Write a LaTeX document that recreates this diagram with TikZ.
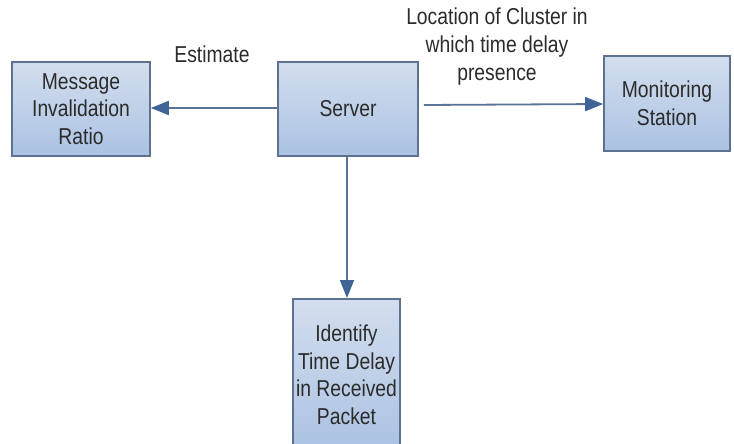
\documentclass[tikz,border=0pt]{standalone}
\usepackage{fontspec}
\setmainfont[FakeStretch=0.84]{Liberation Sans}
\usetikzlibrary{arrows.meta}
\definecolor{boxtop}{HTML}{D3DEEE}
\definecolor{boxbot}{HTML}{ABC2E2}
\definecolor{boxline}{HTML}{5D7191}
\definecolor{arrline}{HTML}{5A7396}
\definecolor{arrhead}{HTML}{3F6596}
\definecolor{txt}{HTML}{2B2B2B}
\tikzset{
  x=1pt, y=-1pt,
  box/.style={draw=boxline, line width=1.6pt, top color=boxtop, bottom color=boxbot,
    rectangle, inner sep=0pt, align=center, text=txt, font=\fontsize{23}{27.5}\selectfont},
  conn/.style={draw=arrline, line width=1.8pt, -{Triangle[length=18pt,width=14pt,fill=arrhead,color=arrhead]}},
  lbl/.style={align=center, text=txt, font=\fontsize{23}{28}\selectfont, inner sep=0pt}
}
\begin{document}
\begin{tikzpicture}
\useasboundingbox (0,0) rectangle (734,444);
\clip (0,0) rectangle (734,444);
\node[box, minimum width=138pt, minimum height=94pt] (mir) at (81,109) {Message\\Invalidation\\Ratio};
\node[box, minimum width=140pt, minimum height=94pt] (srv) at (348,109) {Server};
\node[box, minimum width=126pt, minimum height=95pt] (mon) at (667,103.5) {Monitoring\\Station};
\node[box, minimum width=107pt, minimum height=152pt, anchor=north] (idt) at (346.5,298) {Identify\\Time Delay\\in Received\\Packet};
\coordinate (s1) at (srv.west |- 0,108);
\coordinate (m1) at (mir.east |- 0,108);
\draw[conn] (s1) -- (m1);
\coordinate (s2) at ([xshift=5pt]srv.east |- 0,105);
\coordinate (m2) at (mon.west |- 0,104);
\draw[conn] (s2) -- (m2);
\coordinate (s3) at (srv.south -| 347,0);
\coordinate (m3) at (idt.north -| 347,0);
\draw[conn] (s3) -- (m3);
\node[lbl] (est) at (212,54) {Estimate};
\node[lbl] (loc) at (497,47) {Location of Cluster in\\which time delay\\presence};
\end{tikzpicture}
\end{document}
